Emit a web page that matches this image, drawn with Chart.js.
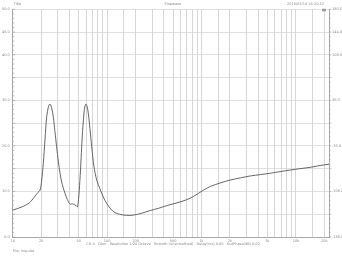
<!DOCTYPE html>
<html>
<head>
<meta charset="utf-8">
<script src="https://cdn.jsdelivr.net/npm/chart.js@4/dist/chart.umd.min.js"></script>
<style>
  html, body { margin: 0; padding: 0; background: #fff; }
  #wrap { width: 342px; height: 256px; }
</style>
</head>
<body>
<div id="wrap"><canvas id="c"></canvas></div>
<script>
// impedance sweep
const freqs = [10, 12.5, 15, 17, 18.5, 19.5, 20.3, 21.1, 22, 22.9, 23.9, 24.8, 25.8, 26.9, 28, 29.2, 30.5, 31.7,
  33.5, 35.8, 38, 40.5, 43, 45, 47, 48.5, 49.8, 50.7, 52.2, 53.8, 55.4, 56.9, 58.3, 59.7, 61.4, 63.2,
  65.8, 68.7, 72.5, 77.6, 84, 91, 99.5, 110, 120, 135, 160, 190, 230, 286, 350, 430, 550, 700, 820,
  930, 1050, 1240, 1600, 2010, 2600, 3280, 4200, 5350, 7000, 8720, 11000, 14200, 18000, 22400];
const impedance = [5.9, 6.6, 7.5, 8.8, 9.8, 10.3, 12.5, 16.2, 21.5, 26.4, 28.6, 29.2, 28.4, 26.4, 23.2, 19.8, 16.5, 14,
  11.5, 9.6, 8.2, 7.2, 7.3, 7.1, 6.9, 6.6, 8.2, 10.3, 14.5, 19.8, 24.2, 27.2, 28.8, 29.2, 28.6, 27.2,
  23.8, 19.8, 15.5, 12.5, 10.6, 8.8, 7.3, 6.1, 5.4, 5.0, 4.75, 4.8, 5.2, 5.8, 6.3, 6.9, 7.5, 8.2, 8.9,
  9.6, 10.3, 11.1, 11.9, 12.5, 13.0, 13.4, 13.7, 14.0, 14.4, 14.7, 15.0, 15.3, 15.7, 16.0];

const xTickValues = [10, 20, 50, 100, 200, 500, 1000, 2000, 5000, 10000, 20000];
const xTickLabels = ['10', '20', '50', '100', '200', '500', '1k', '2k', '5k', '10k', '20k'];
const ohmTicks = [0, 10, 20, 30, 40, 45, 50];
const degTicks = [-180, -108, -36, 36, 108, 144, 180];

const headerTexts = ['Title', 'Sinewave', '2016/03/19 16:20:52'];
const footerText = 'CH A   Ohm   Resolution 1/24 Octave   Smooth (unsmoothed)   Delay(ms) 0.00   DutPhase(dB) 0.00';
const fileText = 'File: imp.dat';

const txt = '#8a8a8a';
const fnt = { family: 'DejaVu Sans', size: 3.5 };

const decor = {
  id: 'decor',
  afterDraw(chart) {
    const { ctx, chartArea: a, scales } = chart;
    const y = scales.y;
    ctx.save();
    ctx.strokeStyle = '#9a9a9a';
    ctx.lineWidth = 0.6;
    for (let v = 0; v <= 50; v++) {
      const py = y.getPixelForValue(v);
      const len = v % 5 ? 1.5 : 2.5;
      ctx.beginPath();
      ctx.moveTo(a.left, py); ctx.lineTo(a.left + len, py);
      ctx.moveTo(a.right, py); ctx.lineTo(a.right + len, py);
      ctx.stroke();
    }
    // small legend marker in the corner
    ctx.fillStyle = '#9a9a9a';
    ctx.fillRect(a.right - 7, a.top - 0.5, 4, 2.5);

    ctx.fillStyle = txt;
    ctx.font = '3.5px "DejaVu Sans"';
    ctx.textBaseline = 'middle';
    ctx.textAlign = 'left';
    ctx.fillText(headerTexts[0], a.left + 1, 4);
    ctx.textAlign = 'center';
    ctx.fillText(headerTexts[1], (a.left + a.right) / 2 + 2, 4);
    ctx.textAlign = 'right';
    ctx.fillText(headerTexts[2], a.right - 5, 4);
    ctx.textAlign = 'center';
    ctx.fillText(footerText, 173, 244);
    ctx.textAlign = 'left';
    ctx.fillText(fileText, a.left, 251);
    ctx.restore();
  }
};

new Chart(document.getElementById('c'), {
  type: 'line',
  data: {
    datasets: [{
      data: freqs.map((f, i) => ({ x: f, y: impedance[i] })),
      borderColor: '#555',
      borderWidth: 0.9,
      pointRadius: 0,
      tension: 0.3,
      fill: false
    }]
  },
  options: {
    responsive: true,
    maintainAspectRatio: false,
    animation: false,
    layout: { padding: { top: 9.3, left: 0, right: 0, bottom: 0 } },
    plugins: { legend: { display: false }, tooltip: { enabled: false } },
    scales: {
      x: {
        type: 'logarithmic',
        min: 10,
        max: 22400,
        grid: { color: '#c4c4c4', lineWidth: 0.7, drawTicks: false },
        border: { color: '#9a9a9a', width: 0.8 },
        ticks: {
          autoSkip: false, maxRotation: 0, padding: 1.5,
          color: txt, font: fnt,
          callback: v => {
            const i = xTickValues.indexOf(v);
            return i >= 0 ? xTickLabels[i] : '';
          }
        },
        afterFit: s => { s.height = 19; }
      },
      y: {
        position: 'left',
        min: 0, max: 50,
        grid: { color: '#d2d2d2', lineWidth: 0.7, drawTicks: false },
        border: { color: '#9a9a9a', width: 0.8 },
        ticks: {
          stepSize: 5, padding: 3, color: txt, font: fnt,
          callback: v => ohmTicks.includes(v) ? v.toFixed(1) : ''
        },
        afterFit: s => { s.width = 12.7; }
      },
      y2: {
        position: 'right',
        min: -180, max: 180,
        grid: { drawOnChartArea: false, drawTicks: false },
        border: { color: '#9a9a9a', width: 0.8 },
        ticks: {
          stepSize: 36, padding: 3, color: txt, font: fnt,
          callback: v => degTicks.includes(v) ? v.toFixed(1) : ''
        },
        afterFit: s => { s.width = 13; }
      }
    }
  },
  plugins: [decor]
});
</script>
</body>
</html>
